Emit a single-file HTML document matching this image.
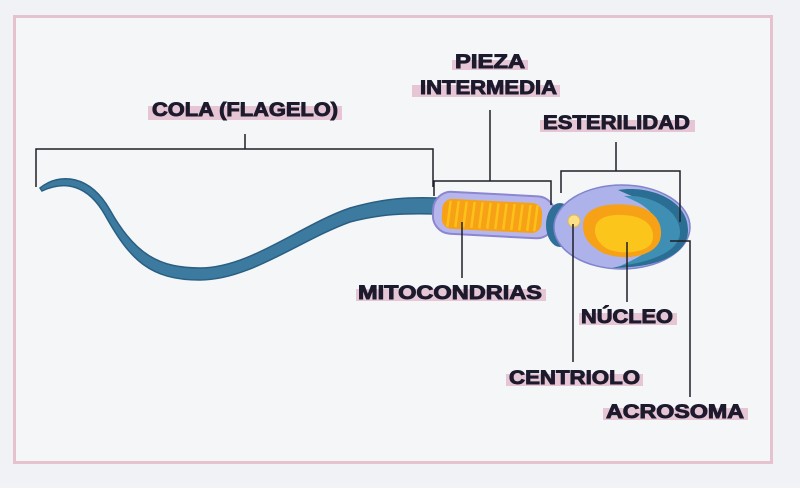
<!DOCTYPE html>
<html><head><meta charset="utf-8"><style>
body{margin:0;width:800px;height:483px;background:#f2f3f6;overflow:hidden;font-family:"Liberation Sans",sans-serif}
</style></head><body>
<svg width="800" height="483" viewBox="0 0 800 483" xmlns="http://www.w3.org/2000/svg">
<rect x="0" y="0" width="800" height="483" fill="#f1f2f5"/>
<rect x="14.5" y="16.5" width="757" height="446" fill="#f5f6f8" stroke="#e6c2cf" stroke-width="3"/>
<g fill="#e6c6d4">
<rect x="148" y="106" width="194" height="14"/>
<rect x="452" y="60" width="76" height="10"/>
<rect x="412" y="85" width="148" height="12"/>
<rect x="540" y="120" width="155" height="12"/>
<rect x="356" y="289" width="190" height="12"/>
<rect x="579" y="313" width="98" height="12"/>
<rect x="506" y="374" width="137" height="12"/>
<rect x="603" y="408" width="145" height="12"/>
</g>
<g font-family="Liberation Sans, sans-serif" font-weight="bold" font-size="19" fill="#1c1a2c" stroke="#1c1a2c" stroke-width="0.9">
<text x="152" y="116" textLength="186" lengthAdjust="spacingAndGlyphs">COLA (FLAGELO)</text>
<text x="455" y="68" textLength="70" lengthAdjust="spacingAndGlyphs">PIEZA</text>
<text x="420" y="94" textLength="137" lengthAdjust="spacingAndGlyphs">INTERMEDIA</text>
<text x="543" y="129" textLength="147" lengthAdjust="spacingAndGlyphs">ESTERILIDAD</text>
<text x="358" y="299" textLength="184" lengthAdjust="spacingAndGlyphs">MITOCONDRIAS</text>
<text x="581" y="323" textLength="92" lengthAdjust="spacingAndGlyphs">NÚCLEO</text>
<text x="509" y="384" textLength="131" lengthAdjust="spacingAndGlyphs">CENTRIOLO</text>
<text x="606" y="418" textLength="138" lengthAdjust="spacingAndGlyphs">ACROSOMA</text>
</g>
<path d="M40,188 C60,172 90,175 110,210 C135,255 160,268 200,268 C250,268 300,225 350,208 C385,198 410,197 437,198 L437,214 C405,213 380,214 350,222 C300,240 250,280 200,280 C150,280 130,260 105,215 C88,185 65,180 42,191 Z" fill="#3d7aa0" stroke="#2a5f82" stroke-width="1.5"/>
<g transform="rotate(3 493 215)">
<rect x="433" y="194" width="122" height="42" rx="18" fill="#b6b6ec" stroke="#8b86cf" stroke-width="2"/>
<rect x="442" y="201" width="100" height="30" rx="10" fill="#f7a116"/>
<g stroke="#fcc21a" stroke-width="2.5">
<line x1="450" y1="203" x2="448" y2="229"/><line x1="458" y1="203" x2="456" y2="229"/><line x1="466" y1="203" x2="464" y2="229"/><line x1="474" y1="203" x2="472" y2="229"/><line x1="482" y1="203" x2="480" y2="229"/><line x1="490" y1="203" x2="488" y2="229"/><line x1="498" y1="203" x2="496" y2="229"/><line x1="506" y1="203" x2="504" y2="229"/><line x1="514" y1="203" x2="512" y2="229"/><line x1="522" y1="203" x2="520" y2="229"/><line x1="530" y1="203" x2="528" y2="229"/><line x1="537" y1="203" x2="535" y2="229"/>
</g>
</g>
<ellipse cx="560" cy="225" rx="14" ry="22" fill="#2f6f98"/>
<ellipse cx="622" cy="227" rx="68" ry="42" fill="#aeb2ea" stroke="#7f84cc" stroke-width="1.5"/>
<path d="M618,190 C650,185 688,200 688,230 C688,258 650,268 612,268 C640,262 670,252 668,232 C666,208 640,200 618,190 Z" fill="#2a6f93"/>
<path d="M624,196 C650,194 680,210 680,232 C680,252 650,262 620,266 C645,255 660,245 658,230 C656,210 640,203 624,196 Z" fill="#3f8fb5"/>
<path d="M583,226 C583,205 610,203 630,205 C652,207 665,222 660,240 C655,256 625,262 603,253 C590,246 583,238 583,226 Z" fill="#f7a116"/>
<path d="M595,230 C595,215 615,213 632,216 C648,219 656,230 652,242 C648,252 625,255 610,250 C600,246 595,238 595,230 Z" fill="#fcc51c"/>
<circle cx="574" cy="221" r="6" fill="#fbe08a" stroke="#e8b84a" stroke-width="1"/>
<g stroke="#1e1e26" stroke-width="1.5" fill="none">
<path d="M36,187 V149 H433 V187"/><path d="M245,134 V149"/>
<path d="M434,196 V181 H551 V205"/><path d="M490,110 V181"/>
<path d="M561,193 V171 H680 V222"/><path d="M616,142 V171"/>
<path d="M462,222 V278"/>
<path d="M627,242 V302"/>
<path d="M573,224 V362"/>
<path d="M670,241 H690 V397"/>
</g>
</svg>
</body></html>
